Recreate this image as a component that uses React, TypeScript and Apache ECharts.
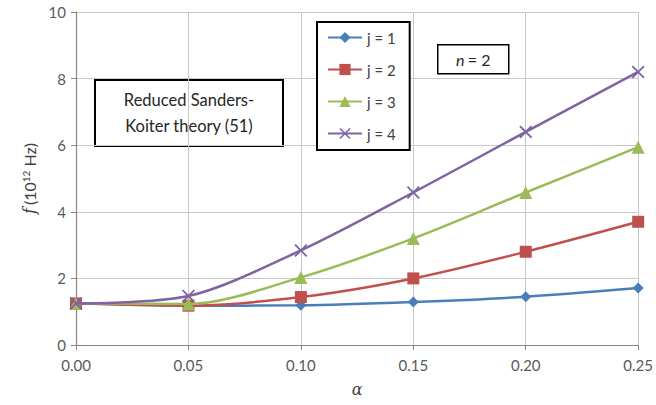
import React, { useEffect, useRef } from "react";
import * as echarts from "echarts";

const alphas = [0.0, 0.05, 0.1, 0.15, 0.2, 0.25];
const seriesNames = ["j = 1", "j = 2", "j = 3", "j = 4"];
const j1 = [1.25, 1.18, 1.19, 1.29, 1.45, 1.71];
const j2 = [1.25, 1.18, 1.44, 2.0, 2.8, 3.7];
const j3 = [1.25, 1.23, 2.03, 3.2, 4.58, 5.94];
const j4 = [1.25, 1.47, 2.84, 4.58, 6.4, 8.2];
const yTicks = [0, 2, 4, 6, 8, 10];

const colors = ["#4A7EBB", "#C0504D", "#9BBB59", "#8064A2"];
const symbols = [
  "diamond",
  "rect",
  "triangle",
  "path://M0,1 L1,0 L5,4 L9,0 L10,1 L6,5 L10,9 L9,10 L5,6 L1,10 L0,9 L4,5 Z",
];
const symbolSizes = [11, 12, 13, 13];
const FONT = "Lato, 'Open Sans', sans-serif";

export default function App() {
  const ref = useRef<HTMLDivElement>(null);
  useEffect(() => {
    if (!ref.current) return;
    const chart = echarts.init(ref.current, undefined, { renderer: "svg" });
    const allData = [j1, j2, j3, j4];
    chart.setOption({
      animation: false,
      backgroundColor: "#ffffff",
      textStyle: { fontFamily: FONT },
      grid: { left: 76, right: 14, top: 12, bottom: 60, containLabel: false },
      xAxis: {
        type: "value",
        min: 0,
        max: 0.25,
        interval: 0.05,
        name: "α",
        nameLocation: "middle",
        nameGap: 36,
        nameTextStyle: { fontStyle: "italic", fontSize: 16, color: "#404040", fontFamily: "'DejaVu Serif', serif" },
        axisLine: { lineStyle: { color: "#868686", width: 1.2 } },
        axisTick: { show: true, inside: false, length: 5, lineStyle: { color: "#868686" } },
        axisLabel: {
          color: "#595959",
          fontSize: 15,
          margin: 12,
          formatter: (v: number) => v.toFixed(2),
        },
        splitLine: { show: true, lineStyle: { color: "#C8C8C8", width: 1 } },
      },
      yAxis: {
        type: "value",
        min: 0,
        max: 10,
        interval: 2,
        name: "{f|f} {n|(10}{s|12}{n| Hz)}",
        nameLocation: "middle",
        nameGap: 36,
        nameRotate: 90,
        nameTextStyle: {
          rich: {
            f: { fontStyle: "italic", fontSize: 16, color: "#404040", fontFamily: "'DejaVu Serif', serif" },
            n: { fontSize: 16, color: "#404040", fontFamily: FONT },
            s: { fontSize: 10, color: "#404040", fontFamily: FONT, verticalAlign: "top", padding: [0, 0, 8, 0] },
          },
        },
        axisLine: { show: true, lineStyle: { color: "#868686", width: 1.2 } },
        axisTick: { show: true, inside: false, length: 5, lineStyle: { color: "#868686" } },
        axisLabel: {
          color: "#595959",
          fontSize: 15,
          margin: 10,
          customValues: yTicks,
        },
        splitLine: { show: true, lineStyle: { color: "#C8C8C8", width: 1 } },
      },
      legend: {
        orient: "vertical",
        left: 317,
        top: 22,
        data: seriesNames,
        itemWidth: 34,
        itemHeight: 14,
        itemGap: 17,
        padding: [8, 14, 9, 10],
        borderColor: "#000000",
        borderWidth: 2,
        backgroundColor: "#ffffff",
        textStyle: { fontSize: 15, color: "#404040", fontFamily: FONT },
      },
      series: seriesNames.map((name, i) => ({
        name,
        type: "line",
        smooth: 0.3,
        data: alphas.map((a, k) => [a, allData[i][k]]),
        symbol: symbols[i],
        symbolSize: symbolSizes[i],
        lineStyle: { color: colors[i], width: 2.5 },
        itemStyle: { color: colors[i] },
        z: 2 + i,
      })),
      graphic: [
        {
          type: "group",
          left: 94,
          top: 79,
          children: [
            {
              type: "rect",
              shape: { x: 0, y: 0, width: 188, height: 66 },
              style: { fill: "#ffffff", stroke: "#000000", lineWidth: 2 },
            },
            {
              type: "text",
              x: 94,
              y: 33,
              style: {
                text: "Reduced Sanders-\nKoiter theory (51)",
                fontSize: 16.5,
                lineHeight: 26,
                fontFamily: FONT,
                fill: "#262626",
                align: "center",
                verticalAlign: "middle",
              },
            },
          ],
        },
        {
          type: "group",
          left: 437,
          top: 44,
          children: [
            {
              type: "rect",
              shape: { x: 0, y: 0, width: 71, height: 29 },
              style: { fill: "#ffffff", stroke: "#000000", lineWidth: 1.5 },
            },
            {
              type: "text",
              x: 35.5,
              y: 15,
              style: {
                text: "{i|n} {r|= 2}",
                align: "center",
                verticalAlign: "middle",
                rich: {
                  i: { fontStyle: "italic", fontSize: 16, fontFamily: FONT, fill: "#262626" },
                  r: { fontSize: 16, fontFamily: FONT, fill: "#262626" },
                },
              },
            },
          ],
        },
      ],
    });
    return () => chart.dispose();
  }, []);
  return (
    <div
      ref={ref}
      style={{ position: "absolute", left: 0, top: 0, width: 656, height: 405 }}
    />
  );
}
